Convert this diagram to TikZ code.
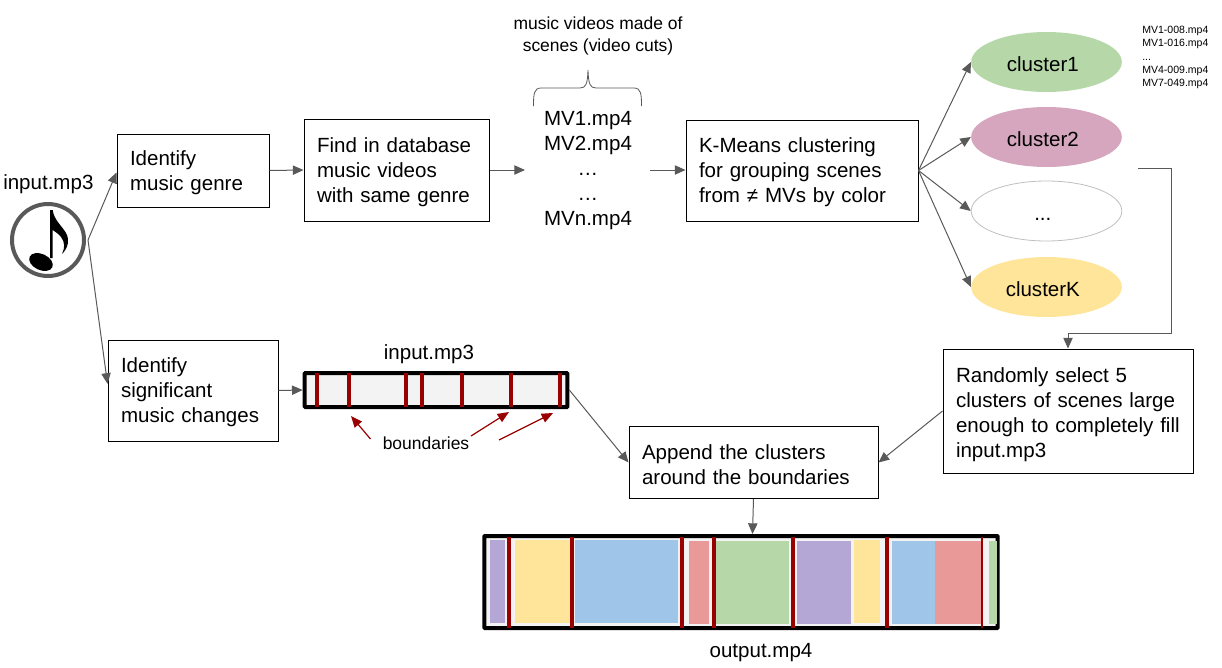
\documentclass[tikz,border=0pt]{standalone}
\usepackage{fontspec}
\setmainfont{Liberation Sans}
\usetikzlibrary{arrows.meta,shapes.geometric}
\definecolor{gline}{HTML}{595959}
\definecolor{dred}{HTML}{990000}
\definecolor{barbg}{HTML}{F3F3F3}
\definecolor{cgreen}{HTML}{B6D7A8}
\definecolor{cpink}{HTML}{D5A6BD}
\definecolor{cyellow}{HTML}{FFE599}
\definecolor{cpurple}{HTML}{B4A7D6}
\definecolor{cblue}{HTML}{9FC5E8}
\definecolor{cred}{HTML}{EA9999}
\newcommand{\mainsize}{\fontsize{15.4}{18.75}\selectfont}
\newcommand{\midsize}{\fontsize{13.1}{16.5}\selectfont}
\newcommand{\tinysize}{\fontsize{7.9}{9.9}\selectfont}
\tikzset{
  x=0.75pt,y=-0.75pt,
  flow/.style={draw=gline,line width=0.75pt,-{Triangle[length=8pt,width=7pt]}},
  redarrow/.style={draw=dred,line width=0.9pt,-{Triangle[length=8.5pt,width=7pt]}},
  pbox/.code 2 args={\pgfmathsetmacro\tw{#1*0.75-19.5}\pgfmathsetmacro\mw{#1*0.75}\pgfmathsetmacro\mh{#2*0.75}%
    \tikzset{draw=black,line width=0.75pt,align=left,inner xsep=9.75pt,inner ysep=0pt,font=\mainsize,
    text width=\tw pt,minimum width=\mw pt,minimum height=\mh pt,execute at begin node={\rule{0pt}{14pt}}}},
  cluster/.style={ellipse,minimum width=113pt,minimum height=45pt,inner sep=0pt,font=\mainsize,execute at begin node={\hspace*{-5.5pt}\rule[-0.5pt]{0pt}{15.5pt}}},
  plain/.style={align=center,inner sep=0pt},
  seg/.style={fill=#1,draw=none},
  rbar/.style={draw=dred,line width=3pt},
  rbarthin/.style={draw=dred,line width=2pt},
}
\begin{document}
\begin{tikzpicture}
\useasboundingbox (0,0) rectangle (1222,668);
% music note icon
\node[circle,draw=gline,line width=3pt,minimum size=54pt,inner sep=0pt] (note) at (48,240) {};
\fill[black,rotate around={-25:(41,262)}] (41,262) ellipse (12.5 and 8);
\fill[black] (50,258) -- (50,210) -- (52.7,210)
  .. controls (54,220) and (62,226) .. (66,233)
  .. controls (70,240) and (68,248) .. (62,254)
  .. controls (65,248) and (65,242) .. (61,237)
  .. controls (58,233) and (55,232) .. (52.7,230) -- (52.7,258) -- cycle;
\node[plain,font=\mainsize,anchor=base west] (inp) at (3,189) {input.mp3};
% boxes
\node[pbox={152}{73}] (genre) at (193,170.5) {Identify\\music genre};
\node[pbox={185}{102}] (find) at (396.5,170) {Find in database\\music videos\\with same genre};
\node[pbox={232}{101}] (kmeans) at (802,170.5) {K-Means clustering\\for grouping scenes\\from ≠ MVs by color};
\node[pbox={170}{101}] (sig) at (193,390.5) {Identify\\significant\\music changes};
\node[pbox={250}{124}] (rand) at (1068,411) {\rule{0pt}{17pt}Randomly select 5\\clusters of scenes large\\enough to completely fill\\input.mp3};
\node[pbox={249}{72}] (app) at (753.5,462.5) {Append the clusters\\around the boundaries};
% music videos
\node[plain,font=\mainsize,minimum width=94.5pt] (mv) at (588,171) {MV1.mp4\\MV2.mp4\\…\\…\\MVn.mp4};
\node[plain,font=\midsize] (mvcap) at (598,36) {music videos made of\\scenes (video cuts)};
\draw[gline,line width=0.6pt] (533.5,106) .. controls (533.5,94) and (534,88) .. (541,88)
  -- (580,88) .. controls (586,88) and (587.5,84) .. (588,70)
  .. controls (588.5,84) and (590,88) .. (596,88)
  -- (634,88) .. controls (641,88) and (641.5,94) .. (641.5,106);
% clusters
\node[cluster,fill=cgreen] (c1) at (1046.5,62) {cluster1};
\node[cluster,fill=cpink] (c2) at (1046.5,137) {cluster2};
\node[cluster,draw=black!25,line width=0.6pt] (c3) at (1046.5,211) {...};
\node[cluster,fill=cyellow] (c4) at (1046.5,287) {clusterK};
\node[align=left,inner sep=0pt,font=\tinysize,anchor=north west] (list) at (1142,26)
  {MV1-008.mp4\\MV1-016.mp4\\...\\MV4-009.mp4\\MV7-049.mp4};
% input bar
\node[draw=black,line width=3pt,fill=barbg,minimum width=197pt,minimum height=25.5pt,inner sep=0pt,rounded corners=0.5pt] (inbar) at (436,390) {};
\foreach \x in {317,349,406,422,462,511,559.5}
  \draw[rbar] (\x,373) -- (\x,407);
\node[plain,font=\mainsize,anchor=base] (intitle) at (429,359) {input.mp3};
\node[plain,font=\midsize,anchor=base] (bnd) at (426,449) {boundaries};
\coordinate (t1) at (370.5,439);
\coordinate (h1) at (351,416);
\coordinate (t2) at (471,436);
\coordinate (h2) at (509,412);
\coordinate (t3) at (499,440);
\coordinate (h3) at (553,413);
\draw[redarrow] (t1) -- (h1);
\draw[redarrow] (t2) -- (h2);
\draw[redarrow] (t3) -- (h3);
% output bar
\node[draw=black,line width=3pt,fill=barbg,minimum width=385pt,minimum height=69pt,inner sep=0pt,rounded corners=0.5pt] (outbar) at (741,582) {};
\fill[seg=cpurple] (490,539.5) rectangle (504.5,622.5);
\fill[seg=cyellow] (514.5,539.5) rectangle (570,622.5);
\fill[seg=cblue] (574.5,539.5) rectangle (677.5,622.5);
\fill[seg=cred] (688.5,541) rectangle (708.5,624);
\fill[seg=cgreen] (715.5,541) rectangle (789,624);
\fill[seg=cpurple] (796.5,541) rectangle (850.5,624);
\fill[seg=cyellow] (854,539.5) rectangle (879.5,622.5);
\fill[seg=cblue] (892,541) rectangle (935,624);
\fill[seg=cred] (935,541) rectangle (981,624);
\fill[seg=cgreen] (989,541) rectangle (997,624);
\foreach \x in {508.5,571.5,682,713.5,792.5,887}
  \draw[rbar] (\x,536.5) -- (\x,627.5);
\draw[rbarthin] (982,536.5) -- (982,627.5);
\node[plain,font=\mainsize,anchor=base] (outtitle) at (761,657) {output.mp4};
% connectors
\draw[flow] ([xshift=1.5pt]note.east) -- ([yshift=-1.5pt]genre.west);
\draw[flow] ([xshift=1.5pt]note.east) -- ([yshift=5pt]sig.west);
\draw[flow] (genre.east) -- (find.west);
\coordinate (mvin) at (525,170);
\coordinate (mvout) at (650,170);
\draw[flow] (find.east |- mvin) -- (mvin);
\draw[flow] (mvout) -- (kmeans.west |- mvout);
\draw[flow] (kmeans.east) -- (c1.west);
\draw[flow] (kmeans.east) -- (c2.west);
\draw[flow] (kmeans.east) -- (c3.west);
\draw[flow] (kmeans.east) -- (c4.west);
\coordinate (listout) at (1138,168);
\coordinate (elbow1) at (1171,168);
\coordinate (elbow2) at (1171,333);
\coordinate (elbow3) at (1068,333);
\draw[flow] (listout) -- (elbow1) -- (elbow2) -- (elbow3) -- (rand.north);
\draw[flow] (sig.east) -- (inbar.west);
\draw[flow] (inbar.east) -- (app.west);
\draw[flow] (rand.west) -- (app.east);
\draw[flow] (app.south) -- ([xshift=-0.75pt]outbar.north -| app.south);
\end{tikzpicture}
\end{document}
